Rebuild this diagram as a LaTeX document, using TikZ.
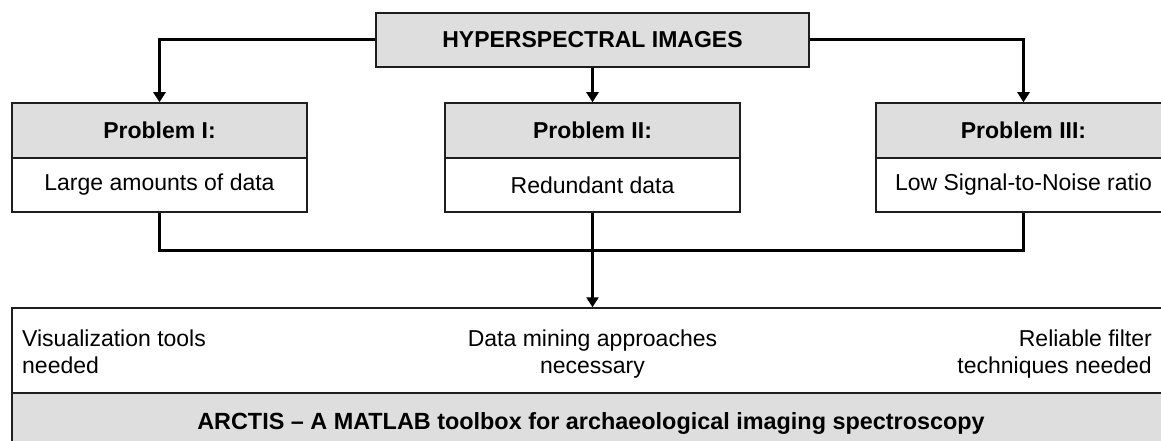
\documentclass[tikz,border=0pt]{standalone}
\usepackage{fontspec}
\setmainfont{Liberation Sans}
\usetikzlibrary{arrows.meta}
\definecolor{boxgray}{HTML}{DEDEDE}
\definecolor{edge}{HTML}{1E1E1E}
\begin{document}
\begin{tikzpicture}[x=1pt,y=-1pt,
  every node/.style={font=\fontsize{23}{26.5}\selectfont, inner sep=0pt},
  hdr/.style={draw=edge, line width=1.5pt, fill=boxgray, minimum height=55pt, font=\fontsize{23}{26.5}\selectfont\bfseries},
  body/.style={draw=edge, line width=1.5pt, fill=white, minimum height=54pt},
  conn/.style={draw=black, line width=3pt, -{Triangle[width=12pt,length=10pt]}},
  link/.style={draw=black, line width=3pt},
  txt/.style={inner sep=0pt}]
\useasboundingbox (0,0) rectangle (1161,441);
% top box
\node[hdr, minimum width=433pt, minimum height=54pt] (h) at (592.5,40) {HYPERSPECTRAL IMAGES};
% problem boxes
\node[hdr, minimum width=295pt] (p1h) at (159.5,130.5) {Problem I:};
\node[body, minimum width=295pt] (p1b) at (159.5,185) {Large amounts of data};
\node[hdr, minimum width=295pt] (p2h) at (592.5,130.5) {Problem II:};
\node[body, minimum width=295pt] (p2b) at (592.5,185) {Redundant data};
\node[hdr, minimum width=295pt] (p3h) at (1023.5,130.5) {Problem III:};
\node[body, minimum width=295pt] (p3b) at (1023.5,185) {Low Signal-to-Noise ratio};
% bottom box
\node[body, minimum width=1158pt, minimum height=85pt] (bb) at (591,350.5) {};
\node[hdr, minimum width=1158pt, minimum height=60pt, font=\fontsize{23.4}{27}\selectfont\bfseries] (bf) at (591,423) {ARCTIS – A MATLAB toolbox for archaeological imaging spectroscopy};
\node[txt, anchor=north west, align=left] (t1) at (22,330) {Visualization tools\\needed};
\node[txt, anchor=north, align=center] (t2) at (592.5,330) {Data mining approaches\\necessary};
\node[txt, anchor=north east, align=right] (t3) at (1152,330) {Reliable filter\\techniques needed};
% connectors
\coordinate (j) at (592.5,250);
\draw[conn] (h.west) -| (p1h.north);
\draw[conn] (h.east) -| (p3h.north);
\draw[conn] (h.south) -- (p2h.north);
\draw[link] (p1b.south) -- (p1b.south |- j) -- (p3b.south |- j) -- (p3b.south);
\draw[conn] (p2b.south) -- (p2b.south |- bb.north);
\end{tikzpicture}
\end{document}
